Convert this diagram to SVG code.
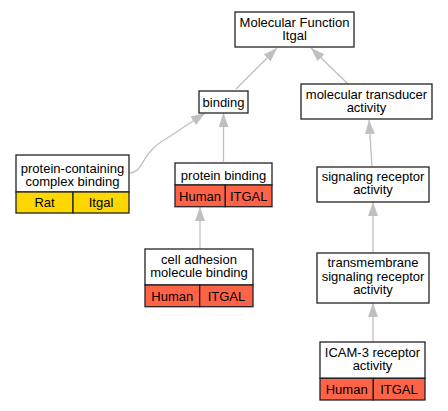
<svg xmlns="http://www.w3.org/2000/svg" width="448" height="411" viewBox="0 0 448 411">
<defs>
<style>
.box{fill:#ffffff;stroke:#222;stroke-width:1.3}
.red{fill:#ff6347;stroke:#222;stroke-width:1.3}
.gold{fill:#ffd700;stroke:#222;stroke-width:1.3}
text{font-family:"Liberation Sans",Arial,sans-serif;font-size:13px;fill:#000;text-anchor:middle}
.edge{fill:none;stroke:#c0c0c0;stroke-width:1.3}
</style>
<marker id="arr" viewBox="0 0 14 10" refX="14" refY="5" markerWidth="14" markerHeight="10" markerUnits="userSpaceOnUse" orient="auto">
<path d="M0,0 L14,5 L0,10 Z" fill="#c0c0c0"/>
</marker>
</defs>
<rect width="448" height="411" fill="#ffffff"/>
<g id="connectors">
<path class="edge" marker-end="url(#arr)" d="M236,89 L277,48"/>
<path class="edge" marker-end="url(#arr)" d="M348,84 L311,48"/>
<path class="edge" marker-end="url(#arr)" d="M223.5,162 L223.5,113"/>
<path class="edge" marker-end="url(#arr)" d="M130,173 C141,172 142,160 150,152 C154,147 160,142 166,139 L205,113"/>
<path class="edge" marker-end="url(#arr)" d="M200,249 L200,207"/>
<path class="edge" marker-end="url(#arr)" d="M372,166 L369,120"/>
<path class="edge" marker-end="url(#arr)" d="M373,253 L373,202"/>
<path class="edge" marker-end="url(#arr)" d="M373,342 L373,303"/>
</g>
<g id="mf">
<rect class="box" x="235" y="12" width="119" height="35"/>
<text x="294.5" y="27">Molecular Function</text>
<text x="294.5" y="40">Itgal</text>
</g>
<g id="binding">
<rect class="box" x="199" y="91" width="49" height="22"/>
<text x="223.5" y="106.5">binding</text>
</g>
<g id="mta">
<rect class="box" x="301" y="84" width="131" height="35"/>
<text x="366.5" y="99">molecular transducer</text>
<text x="366.5" y="112">activity</text>
</g>
<g id="pccb">
<rect class="box" x="16" y="155" width="113" height="37"/>
<rect class="gold" x="16" y="192" width="57" height="21"/>
<rect class="gold" x="73" y="192" width="56" height="21"/>
<text x="72.5" y="172.5">protein-containing</text>
<text x="72.5" y="185.5">complex binding</text>
<text x="44.5" y="207">Rat</text>
<text x="101" y="207">Itgal</text>
</g>
<g id="pb">
<rect class="box" x="175" y="163" width="97" height="22"/>
<rect class="red" x="175" y="185" width="50.3" height="21.7"/>
<rect class="red" x="225.3" y="185" width="46.7" height="21.7"/>
<text x="223.5" y="180">protein binding</text>
<text x="200" y="200.5">Human</text>
<text x="248.7" y="200.5">ITGAL</text>
</g>
<g id="sra">
<rect class="box" x="317" y="167" width="112" height="35"/>
<text x="373" y="181">signaling receptor</text>
<text x="373" y="194">activity</text>
</g>
<g id="camb">
<rect class="box" x="145" y="249" width="108" height="36"/>
<rect class="red" x="145" y="285" width="54.7" height="21.7"/>
<rect class="red" x="199.7" y="285" width="53.3" height="21.7"/>
<text x="199" y="263.5">cell adhesion</text>
<text x="199" y="276.5">molecule binding</text>
<text x="172.3" y="300.5">Human</text>
<text x="226.5" y="300.5">ITGAL</text>
</g>
<g id="tsra">
<rect class="box" x="317" y="253" width="112" height="50"/>
<text x="373" y="267">transmembrane</text>
<text x="373" y="280.5">signaling receptor</text>
<text x="373" y="293.5">activity</text>
</g>
<g id="icam">
<rect class="box" x="320" y="342" width="105" height="36.3"/>
<rect class="red" x="320" y="378.3" width="53.3" height="21.7"/>
<rect class="red" x="373.3" y="378.3" width="51.7" height="21.7"/>
<text x="372.5" y="357">ICAM-3 receptor</text>
<text x="372.5" y="370">activity</text>
<text x="346.7" y="393.5">Human</text>
<text x="399" y="393.5">ITGAL</text>
</g>
</svg>
